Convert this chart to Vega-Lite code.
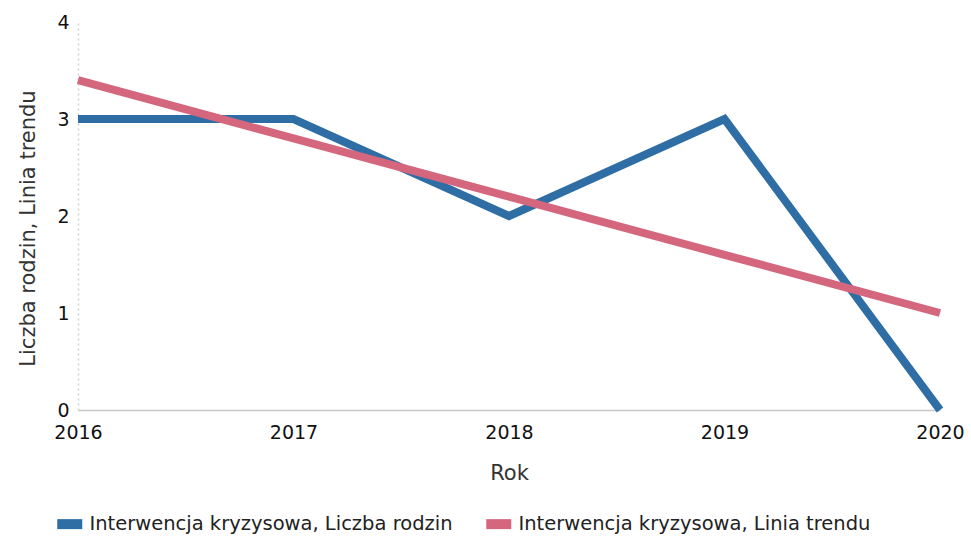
{
  "$schema": "https://vega.github.io/schema/vega-lite/v6.json",
  "width": 862,
  "height": 388,
  "autosize": "none",
  "padding": {"left": 78, "top": 22, "right": 31, "bottom": 135},
  "background": "white",
  "config": {"view": {"stroke": null}, "font": "DejaVu Sans"},
  "data": {"values": [
    {"rok": 2016, "wartosc": 3, "seria": "Interwencja kryzysowa, Liczba rodzin"},
    {"rok": 2017, "wartosc": 3, "seria": "Interwencja kryzysowa, Liczba rodzin"},
    {"rok": 2018, "wartosc": 2, "seria": "Interwencja kryzysowa, Liczba rodzin"},
    {"rok": 2019, "wartosc": 3, "seria": "Interwencja kryzysowa, Liczba rodzin"},
    {"rok": 2020, "wartosc": 0, "seria": "Interwencja kryzysowa, Liczba rodzin"},
    {"rok": 2016, "wartosc": 3.4, "seria": "Interwencja kryzysowa, Linia trendu"},
    {"rok": 2017, "wartosc": 2.8, "seria": "Interwencja kryzysowa, Linia trendu"},
    {"rok": 2018, "wartosc": 2.2, "seria": "Interwencja kryzysowa, Linia trendu"},
    {"rok": 2019, "wartosc": 1.6, "seria": "Interwencja kryzysowa, Linia trendu"},
    {"rok": 2020, "wartosc": 1.0, "seria": "Interwencja kryzysowa, Linia trendu"}
  ]},
  "mark": {"type": "line", "strokeWidth": 8, "strokeCap": "butt", "strokeJoin": "miter", "clip": false},
  "encoding": {
    "x": {
      "field": "rok", "type": "quantitative",
      "scale": {"domain": [2016, 2020], "nice": false, "zero": false},
      "axis": {
        "title": "Rok", "titleFontSize": 21, "titleFontWeight": "normal", "titleColor": "#333", "titlePadding": 20,
        "values": [2016, 2017, 2018, 2019, 2020], "format": "d",
        "labelFontSize": 19, "labelColor": "#111", "labelPadding": 13, "labelFlush": false,
        "ticks": false, "grid": false, "domainColor": "#c8c8c8", "domainWidth": 1.5
      }
    },
    "y": {
      "field": "wartosc", "type": "quantitative",
      "scale": {"domain": [0, 4], "nice": false},
      "axis": {
        "title": "Liczba rodzin, Linia trendu", "titleFontSize": 21, "titleFontWeight": "normal", "titleColor": "#333", "titlePadding": 18,
        "titleY": 206,
        "values": [0, 1, 2, 3, 4], "labelFontSize": 19, "labelColor": "#111", "labelPadding": 9,
        "ticks": false, "grid": false, "domainColor": "#d0d0d0", "domainDash": [2, 3], "domainWidth": 1.5
      }
    },
    "color": {
      "field": "seria", "type": "nominal",
      "scale": {"range": ["#2F6EA5", "#D4677E"]},
      "legend": {
        "title": null, "orient": "none", "legendX": -18, "legendY": 492,
        "direction": "horizontal", "symbolType": "M-2.5,-1H2.5V1H-2.5Z", "symbolSize": 100,
        "symbolStrokeWidth": 0, "labelFontSize": 19.5, "labelColor": "#222", "labelLimit": 0,
        "columnPadding": 33, "labelOffset": 10,
        "encode": {"symbols": {"update": {"fill": {"scale": "color", "field": "value"}, "fillOpacity": {"value": 1}}}}
      }
    }
  }
}
